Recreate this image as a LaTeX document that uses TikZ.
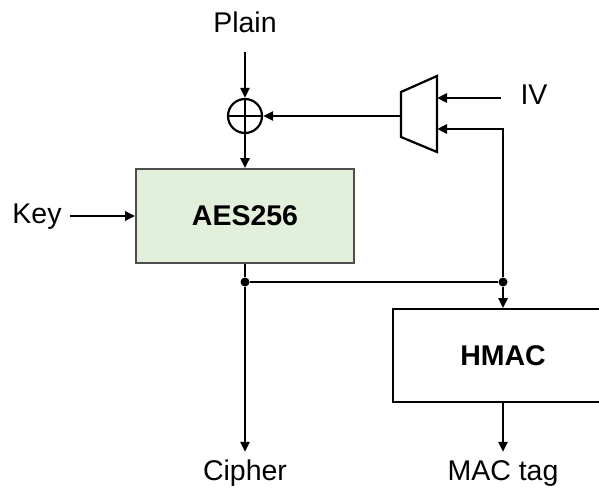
\documentclass[tikz,border=0pt]{standalone}
\usepackage{fontspec}
\setmainfont{Liberation Sans}
\usepackage{tikz}
\usetikzlibrary{arrows.meta,calc,positioning}
\definecolor{AesGreen}{HTML}{E2EFDA}
\definecolor{EdgeGray}{HTML}{4D4D4D}

\begin{document}
\begin{tikzpicture}[x=1pt,y=-1pt,
    box/.style={draw=EdgeGray,line width=1.6pt,minimum width=218pt,minimum height=94pt,
                font=\fontsize{28.5}{32}\selectfont\bfseries},
    io/.style={inner sep=0pt,text height=20pt,text depth=6pt,font=\fontsize{28.5}{32}\selectfont},
    xorc/.style={circle,draw,line width=2.2pt,minimum size=34pt,inner sep=0pt,
                 path picture={\draw[line width=2.2pt] (path picture bounding box.north)--(path picture bounding box.south)
                               (path picture bounding box.west)--(path picture bounding box.east);}},
    dot/.style={circle,fill,inner sep=0pt,minimum size=9pt},
    wire/.style={line width=2.5pt},
    arr/.style={wire,-{Triangle[length=10pt,width=9pt]}}]
    \useasboundingbox (0,0) rectangle (599,492);
    \clip (0,0) rectangle (599,492);
    \node[io] (plain) at (245,26) {Plain};
    \node[xorc] (xor) at (245,116) {};
    \node[box,fill=AesGreen] (aes) at (245,216) {AES256};
    \node[io] (key) at (37,216) {Key};
    \node[box,draw=black,minimum width=220pt,minimum height=93pt] (hmac) at (503,355.5) {HMAC};
    \node[io] (iv) at (534,98) {IV};
    \node[io] (cipher) at (245,473) {Cipher};
    \node[io] (tag) at (503,473) {MAC tag};
    \node[dot] (j1) at (245,282) {};
    \node[dot] (j2) at (503,282) {};
    % multiplexer
    \draw[line width=2.2pt] (401,92) -- (437,76) -- (437,152) -- (401,137) -- cycle;
    \coordinate (muxout) at (401,116);
    \coordinate (muxiv) at (437,98);
    \coordinate (muxfb) at (437,129);
    % connections
    \draw[arr,shorten <=13pt] (plain) -- (xor);
    \draw[arr] (xor) -- (aes);
    \draw[arr] (muxout) -- (xor);
    \draw[arr,shorten <=19pt] (iv) -- (muxiv);
    \draw[arr,shorten <=8pt] (key) -- (aes);
    \draw[wire] (aes) -- (j1) -- (j2);
    \draw[arr,shorten >=8pt] (j1) -- (cipher);
    \draw[arr] (j2) -- (hmac);
    \draw[arr] (j2) |- (muxfb);
    \draw[arr,shorten >=8pt] (hmac) -- (tag);
\end{tikzpicture}
\end{document}
